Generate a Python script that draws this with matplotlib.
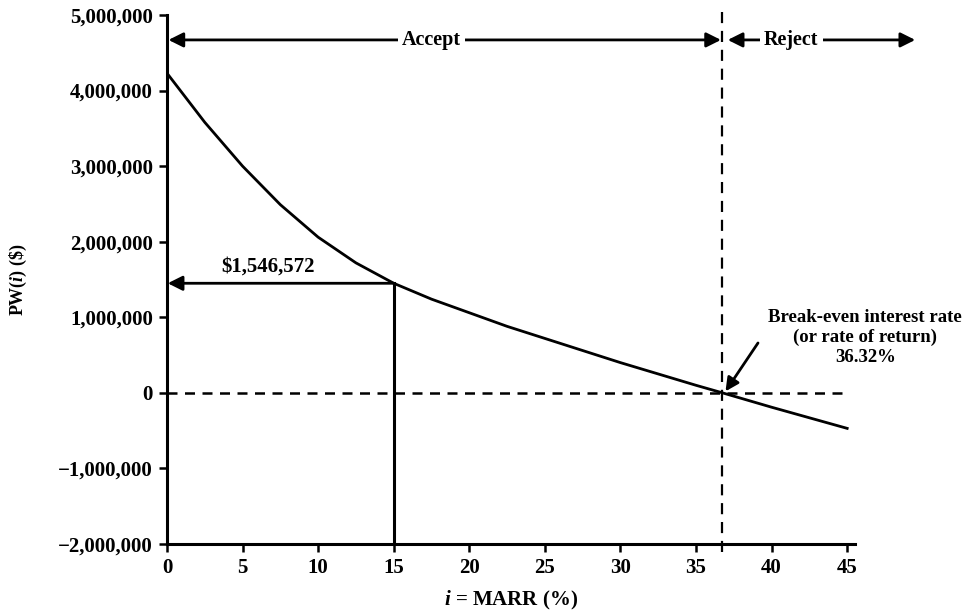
import numpy as np
import matplotlib.pyplot as plt
from matplotlib.ticker import FuncFormatter

plt.rcParams['font.family'] = ['Liberation Serif', 'DejaVu Serif']
plt.rcParams['font.weight'] = 'bold'
plt.rcParams['mathtext.fontset'] = 'custom'
plt.rcParams['mathtext.it'] = 'Liberation Serif:italic:bold'
plt.rcParams['mathtext.rm'] = 'Liberation Serif:bold'

# interest rate (%) and present worth ($)
rate = [0, 2.5, 5, 7.5, 10, 12.5, 15, 17.5, 20, 22.5, 25, 27.5, 30, 32.5, 35, 36.75,
        40, 42.5, 45]
pw = [4230000, 3580000, 3000000, 2490000, 2060000, 1720000, 1450000, 1240000, 1060000,
      880000, 720000, 560000, 400000, 250000, 100000, 0, -190000, -330000, -470000]

marr = 15
pw_marr = 1450000
pw_label = '$1,546,572'
breakeven = 36.75
breakeven_label = 'Break-even interest rate\n(or rate of return)\n36.32%'
yticks = [-2000000, -1000000, 0, 1000000, 2000000, 3000000, 4000000, 5000000]
xticks = [0, 5, 10, 15, 20, 25, 30, 35, 40, 45]

fig = plt.figure(figsize=(9.68, 6.14), dpi=100)
ax = fig.add_axes([0.1725, 0.114, 0.7105, 0.8616])

ax.plot(rate, pw, color='black', lw=2)

# MARR guide lines
ax.plot([marr, marr], [-2000000, pw_marr], color='black', lw=2.2)
ax.annotate('', xy=(0.05, pw_marr), xytext=(marr, pw_marr),
            arrowprops=dict(arrowstyle='-|>', color='black', lw=2, mutation_scale=22,
                            shrinkA=0, shrinkB=0))
ax.text(6.7, 1670000, pw_label, ha='center', va='center', fontsize=15)

# zero line and break-even line
ax.plot([0, 44.7], [0, 0], color='black', lw=1.8, ls=(0, (4, 3)))
ax.plot([breakeven, breakeven], [-2100000, 5080000], color='black', lw=1.6,
        ls=(0, (5, 3.5)), clip_on=False)

# accept / reject ranges
ax.annotate('', xy=(0.1, 4670000), xytext=(breakeven - 0.1, 4670000),
            arrowprops=dict(arrowstyle='<|-|>', color='black', lw=2, mutation_scale=22,
                            shrinkA=0, shrinkB=0), annotation_clip=False)
ax.text(17.5, 4670000, 'Accept', ha='center', va='center', fontsize=14.5,
        bbox=dict(facecolor='white', edgecolor='none', pad=3))
ax.annotate('', xy=(37.1, 4670000), xytext=(49.5, 4670000),
            arrowprops=dict(arrowstyle='<|-|>', color='black', lw=2, mutation_scale=22,
                            shrinkA=0, shrinkB=0), annotation_clip=False)
ax.text(41.3, 4670000, 'Reject', ha='center', va='center', fontsize=14.5,
        bbox=dict(facecolor='white', edgecolor='none', pad=3))

# break-even annotation
ax.annotate('', xy=(breakeven + 0.2, 20000), xytext=(39.1, 660000),
            arrowprops=dict(arrowstyle='-|>', color='black', lw=2, mutation_scale=20,
                            shrinkA=0, shrinkB=0), annotation_clip=False)
ax.text(46.2, 730000, breakeven_label, ha='center', va='center', fontsize=13.5,
        linespacing=1.2, clip_on=False)

ax.set_xlim(0, 45.5)
ax.set_ylim(-2000000, 5000000)
ax.set_xticks(xticks)
ax.set_yticks(yticks)
ax.yaxis.set_major_formatter(FuncFormatter(lambda v, p: f'{int(v):,}'.replace('-', '\u2212')))
ax.tick_params(direction='out', length=6, width=1.8, labelsize=15, pad=4)
for s in ['top', 'right']:
    ax.spines[s].set_visible(False)
for s in ['left', 'bottom']:
    ax.spines[s].set_linewidth(2.2)

ax.set_xlabel('$i$ = MARR (%)', fontsize=15, fontweight='bold', labelpad=8)
ax.set_ylabel(r'PW($i$) (\$)', fontsize=13, fontweight='bold', labelpad=21)

fig.savefig('out.png', dpi=100)
